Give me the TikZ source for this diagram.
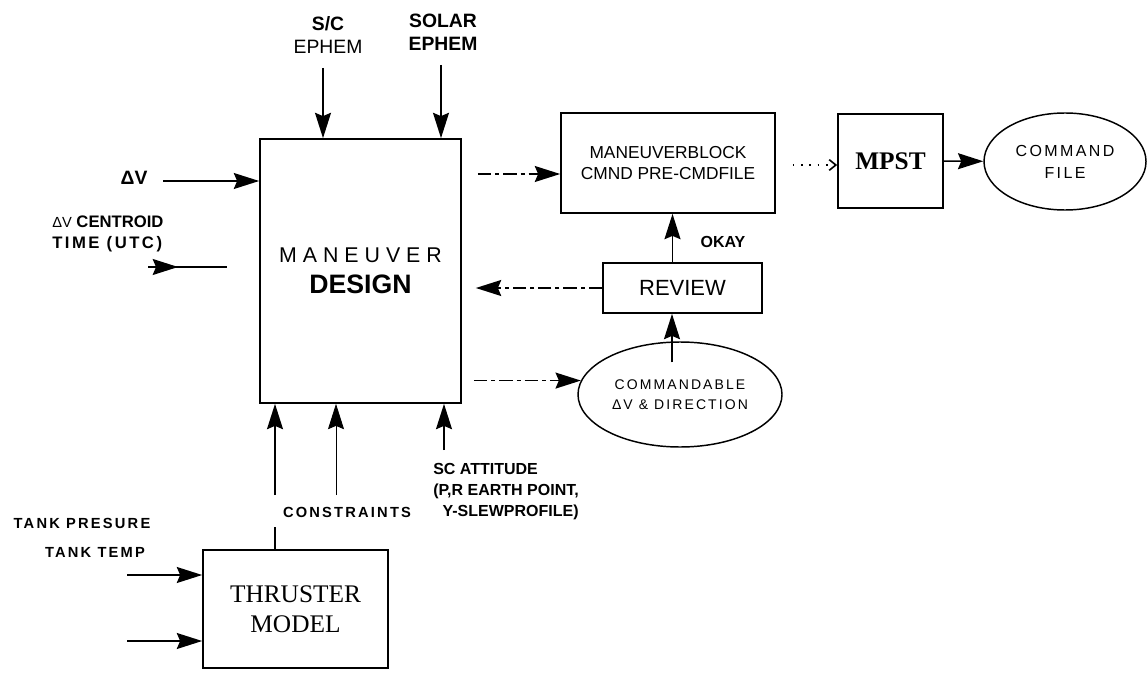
\documentclass[tikz,border=0pt]{standalone}
\usepackage{fontspec}
\setmainfont{Liberation Sans}
\newfontfamily\serifface{Liberation Serif}
\newfontfamily\widesans[LetterSpace=28]{Liberation Sans}
\newfontfamily\spacedsans[LetterSpace=15]{Liberation Sans}
\usetikzlibrary{arrows.meta,shapes.geometric,calc}
\newcommand{\pxu}{0.75pt}
\newcommand{\sz}[2]{\fontsize{#1pt}{#2pt}\selectfont}

\begin{document}
\begin{tikzpicture}[
    x=\pxu, y=-\pxu,
    blk/.style={draw, line width=1.3pt, inner sep=0pt, align=center},
    oval/.style={draw, ellipse, line width=1.1pt, inner sep=0pt, align=center},
    lbl/.style={inner sep=0pt, align=center},
    arr/.style={-{Stealth[length=19pt,width=12pt,inset=2.5pt]}, line width=1.2pt},
    dasharr/.style={arr, dash pattern=on 10pt off 3pt on 3pt off 3pt},
    dotarr/.style={-{Straight Barb[length=5pt,width=8pt]}, line width=1.2pt,
                   dash pattern=on 1.2pt off 5pt},
  ]
  \useasboundingbox (0,0) rectangle (1148,677);

  % blocks
  \node[blk, minimum width=201*\pxu, minimum height=264*\pxu, font=\sz{16}{23}] (design) at (360.5,271)
    {{\widesans MANEUVER}\\{\sz{20}{23}\bfseries DESIGN}};
  \node[blk, minimum width=185*\pxu, minimum height=118*\pxu, font=\serifface\sz{19}{22.5}] (thruster) at (295.5,609)
    {THRUSTER\\MODEL};
  \node[blk, minimum width=214*\pxu, minimum height=100*\pxu, font=\sz{13}{16}] (mblock) at (668,163)
    {MANEUVERBLOCK\\CMND PRE-CMDFILE};
  \node[blk, minimum width=105*\pxu, minimum height=94*\pxu, font=\serifface\bfseries\sz{19}{22}] (mpst) at (890.5,161)
    {MPST};
  \node[oval, minimum width=162*\pxu, minimum height=97*\pxu, font=\spacedsans\sz{12}{16.5}] (cmdfile) at (1065,161.5)
    {COMMAND\\FILE};
  \node[blk, minimum width=159*\pxu, minimum height=50*\pxu, font=\sz{16.5}{20}] (review) at (682.5,288)
    {REVIEW};
  \node[oval, minimum width=204*\pxu, minimum height=105*\pxu, font=\spacedsans\sz{10.5}{15}] (cmdable) at (680,394.5)
    {COMMANDABLE\\ΔV \& DIRECTION};

  % labels
  \node[lbl, font=\sz{14.5}{17}] (scl) at (328,35) {\textbf{S/C}\\EPHEM};
  \node[lbl, font=\bfseries\sz{14.5}{17}] (soll) at (443,32) {SOLAR\\EPHEM};
  \node[lbl, font=\bfseries\sz{14.5}{17}] (dvl) at (134,178) {ΔV};
  \node[lbl, font=\bfseries\sz{12.5}{16}, align=left, anchor=west] (ctl) at (52,234)
    {{\mdseries\sz{11}{16}ΔV} CENTROID\\{\spacedsans TIME (UTC)}};
  \node[lbl, font=\bfseries\sz{12}{14}] (okl) at (723,242) {OKAY};
  \node[lbl, font=\spacedsans\bfseries\sz{11}{14}] (conl) at (347,512) {CONSTRAINTS};
  \node[lbl, font=\bfseries\sz{12}{15.75}, align=left, anchor=north west] (attl) at (433,463)
    {SC ATTITUDE\\(P,R EARTH POINT,\\\hspace*{7pt}Y-SLEWPROFILE)};
  \node[lbl, font=\spacedsans\bfseries\sz{11}{14}] (tpl) at (82,523) {TANK PRESURE};
  \node[lbl, font=\spacedsans\bfseries\sz{11}{14}] (ttl) at (95,552) {TANK TEMP};

  % free ends
  \coordinate (sc in) at (323,68);
  \coordinate (sol in) at (441,65);
  \coordinate (dv in) at (163,181);
  \coordinate (ct in) at (148,267);
  \coordinate (ct end) at (227,267);
  \coordinate (thr up) at (275,495);
  \coordinate (con up) at (336,495);
  \coordinate (att up) at (444,450);
  \coordinate (tp in) at (127,575);
  \coordinate (tt in) at (127,641);
  \coordinate (mb in) at ($(mblock.west)+(0,11)$);
  \coordinate (dots in) at ($(mblock.east)+(17,2)$);
  \coordinate (ok top) at ($(review.north)+(-10,0)$);
  \coordinate (ok foot) at ($(cmdable.north)+(-8,21)$);

  % connectors
  \draw[arr] (sc in) -- (sc in |- design.north);
  \draw[arr] (sol in) -- (sol in |- design.north);
  \draw[arr] (dv in) -- (dv in -| design.west);
  \draw[line width=1.2pt] (ct in) -- (ct end);
  \draw[arr] (ct in) -- ($(ct in)!0.38!(ct end)$);
  \draw[dasharr] ($(mb in -| design.east)+(16,0)$) -- (mb in);
  \draw[dotarr] (dots in) -- (dots in -| mpst.west);
  \draw[arr] (mpst) -- (cmdfile);
  \draw[arr] (ok top) -- (ok top |- mblock.south);
  \draw[dasharr] (review.west) -- ($(review.west -| design.east)+(14,0)$);
  \draw[dasharr] ($(cmdable.172 -| design.east)+(12,0)$) -- (cmdable.172);
  \draw[arr] (ok foot) -- (ok foot |- review.south);
  \draw[arr] (thr up) -- (thr up |- design.south);
  \draw[line width=1.2pt] (thr up |- thruster.north) -- ++(0,-22);
  \draw[arr, line width=0.6pt] (con up) -- (con up |- design.south);
  \draw[arr] (att up) -- (att up |- design.south);
  \draw[arr] (tp in) -- (tp in -| thruster.west);
  \draw[arr] (tt in) -- (tt in -| thruster.west);
\end{tikzpicture}
\end{document}
